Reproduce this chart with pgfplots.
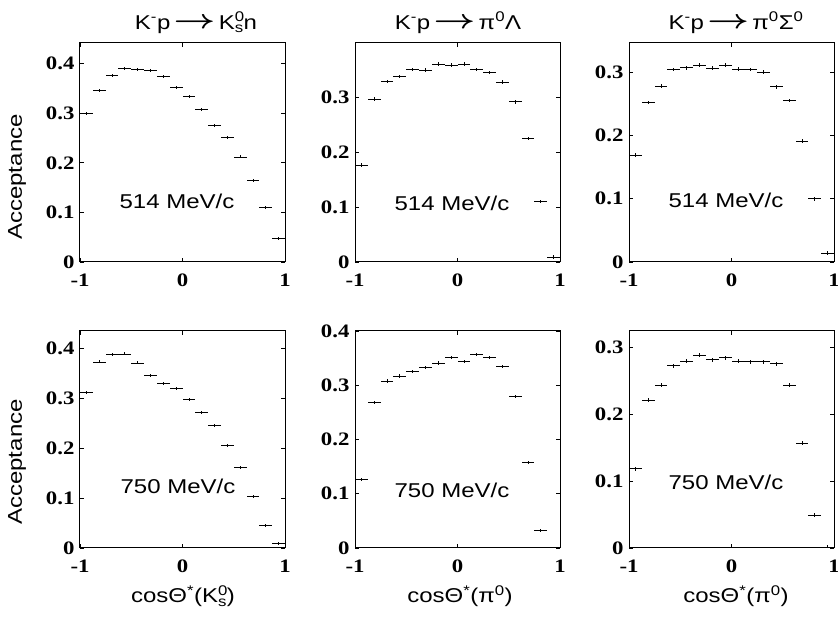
\documentclass[border=0pt]{standalone}
\usepackage{fontspec}
\usepackage{graphicx}
\usepackage{pgfplots}
\usepackage{pgfplotstable}
\pgfplotsset{compat=1.18}
\setmainfont{Liberation Serif}[FakeStretch=1.2]
\newfontfamily\hv{Liberation Sans}[FakeStretch=1.2]

\pgfplotstableread{
x        p1     p2     p3     p4     p5     p6
-0.9375  0.300  0.176  0.169  0.312  0.126  0.119
-0.8125  0.347  0.296  0.252  0.373  0.268  0.221
-0.6875  0.376  0.328  0.278  0.388  0.308  0.244
-0.5625  0.391  0.337  0.304  0.389  0.317  0.273
-0.4375  0.389  0.350  0.307  0.371  0.325  0.280
-0.3125  0.386  0.349  0.311  0.346  0.333  0.289
-0.1875  0.375  0.360  0.306  0.329  0.341  0.282
-0.0625  0.353  0.358  0.311  0.319  0.351  0.285
 0.0625  0.334  0.360  0.305  0.297  0.344  0.280
 0.1875  0.308  0.350  0.304  0.272  0.357  0.279
 0.3125  0.275  0.344  0.300  0.245  0.351  0.279
 0.4375  0.252  0.327  0.277  0.205  0.334  0.276
 0.5625  0.212  0.291  0.255  0.162  0.279  0.244
 0.6875  0.164  0.225  0.191  0.104  0.157  0.157
 0.8125  0.110  0.110  0.100  0.046  0.032  0.049
 0.9375  0.048  0.009  0.014  0.009  nan    0.001
}\acc

\pgfplotsset{
  accax/.style={
    scale only axis, width=205pt, anchor=south west,
    xmin=-1, xmax=1, ymin=0,
    xtick={-1,0,1}, xticklabels={-1,0,1},
    tick align=inside, major tick length=4pt,
    axis line style={line width=1pt},
    tick style={line width=0.8pt, black},
    ticklabel style={font=\fontsize{19}{19}\selectfont\bfseries},
    yticklabel style={xshift=-2pt},
    xticklabel style={yshift=-8pt},
  },
  bins/.style={draw=none, mark=none,
    error bars/x dir=both, error bars/x fixed=0.0625,
    error bars/y dir=both, error bars/y fixed=0.003,
    error bars/error mark=none,
    error bars/error bar style={draw=black, line width=0.75pt}},
}
\newcommand\arr{\,\raisebox{0.5pt}{\scalebox{1.75}[1.3]{\boldmath$\rightarrow$}}\,}

\begin{document}
\begin{tikzpicture}
\useasboundingbox (0,0) rectangle (838pt,618pt);
% top row
\begin{axis}[accax, at={(80pt,356pt)}, height=219pt, ymax=0.442,
  ytick={0,0.1,0.2,0.3,0.4}, yticklabels={0,0.1,0.2,0.3,0.4}]
\addplot[bins] table[x=x,y=p1]{\acc};
\end{axis}
\begin{axis}[accax, at={(355pt,356pt)}, height=219pt, ymax=0.398,
  ytick={0,0.1,0.2,0.3}, yticklabels={0,0.1,0.2,0.3}]
\addplot[bins] table[x=x,y=p2]{\acc};
\end{axis}
\begin{axis}[accax, at={(629pt,356pt)}, height=219pt, ymax=0.346,
  ytick={0,0.1,0.2,0.3}, yticklabels={0,0.1,0.2,0.3}]
\addplot[bins] table[x=x,y=p3]{\acc};
\end{axis}
% bottom row
\begin{axis}[accax, at={(80pt,70pt)}, height=217pt, ymax=0.435,
  ytick={0,0.1,0.2,0.3,0.4}, yticklabels={0,0.1,0.2,0.3,0.4}]
\addplot[bins] table[x=x,y=p4]{\acc};
\end{axis}
\begin{axis}[accax, at={(355pt,70pt)}, height=217pt, ymax=0.4,
  ytick={0,0.1,0.2,0.3,0.4}, yticklabels={0,0.1,0.2,0.3,0.4}]
\addplot[bins] table[x=x,y=p5]{\acc};
\end{axis}
\begin{axis}[accax, at={(629pt,70pt)}, height=217pt, ymax=0.325,
  ytick={0,0.1,0.2,0.3}, yticklabels={0,0.1,0.2,0.3}]
\addplot[bins] table[x=x,y=p6]{\acc};
\end{axis}

\tikzset{lab/.style={font=\hv\fontsize{20}{22}\selectfont, inner sep=0pt}}
% titles
\node[lab, anchor=base] at (196pt,588.5pt) {K\textsuperscript{-}p\arr K\rlap{\textsuperscript{0}}\textsubscript{s}n};
\node[lab, anchor=base] at (458pt,588.5pt) {K\textsuperscript{-}p\arr π\textsuperscript{0}Λ};
\node[lab, anchor=base] at (736pt,588.5pt) {K\textsuperscript{-}p\arr π\textsuperscript{0}Σ\textsuperscript{0}};
% x labels
\node[lab, anchor=base] at (183pt,15pt) {cosΘ\textsuperscript{*}(K\rlap{\textsuperscript{0}}\textsubscript{s})};
\node[lab, anchor=base] at (460pt,15pt) {cosΘ\textsuperscript{*}(π\textsuperscript{0})};
\node[lab, anchor=base] at (736pt,15pt) {cosΘ\textsuperscript{*}(π\textsuperscript{0})};
% y labels
\node[lab, rotate=90] at (17pt,441pt) {Acceptance};
\node[lab, rotate=90] at (17pt,156pt) {Acceptance};
% momenta
\node[lab] at (177pt,416.5pt) {514 MeV/c};
\node[lab] at (452pt,414.5pt) {514 MeV/c};
\node[lab] at (726pt,417.5pt) {514 MeV/c};
\node[lab] at (178pt,132pt) {750 MeV/c};
\node[lab] at (452pt,128pt) {750 MeV/c};
\node[lab] at (726pt,136pt) {750 MeV/c};
\end{tikzpicture}
\end{document}
